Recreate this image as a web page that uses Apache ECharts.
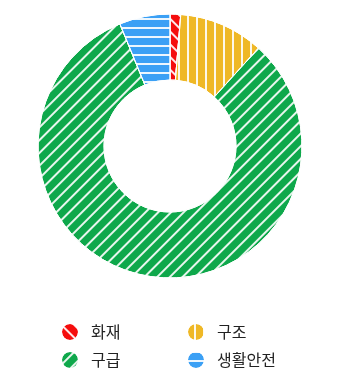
<!DOCTYPE html>
<html>
<head>
<meta charset="utf-8">
<script src="https://cdn.jsdelivr.net/npm/echarts@6/dist/echarts.min.js"></script>
<style>html,body{margin:0;padding:0;background:#fff;}#c{width:355px;height:373px;}</style>
</head>
<body>
<div id="c"></div>
<script>
var categories = ['화재', '구조', '구급', '생활안전'];
var values = [1.3, 10.4, 82.1, 6.2];
var colors = ['#f50d0d', '#efb826', '#0ea84b', '#3ba0f5'];
var rotations = [Math.PI / 4, Math.PI / 2, -Math.PI / 4, 0];

var chart = echarts.init(document.getElementById('c'));
var data = categories.map(function (name, i) {
  return {
    name: name,
    value: values[i],
    itemStyle: {
      color: colors[i],
      decal: {
        symbol: 'rect',
        symbolSize: 1,
        color: 'rgba(255,255,255,0.9)',
        dashArrayX: [1, 0],
        dashArrayY: [1.5, 6.3],
        rotation: rotations[i]
      }
    }
  };
});
chart.setOption({
  animation: false,
  legend: {
    left: 55,
    top: 317,
    width: 250,
    itemWidth: 18,
    itemHeight: 18,
    itemGap: 8,
    icon: 'circle',
    textStyle: {
      fontFamily: '"Noto Sans CJK KR", "Noto Sans", sans-serif',
      fontSize: 16,
      lineHeight: 16,
      color: '#222',
      width: 87,
      padding: [0, 0, 0, 7]
    },
    data: categories
  },
  series: [{
    type: 'pie',
    center: [170, 146],
    radius: [66, 132],
    startAngle: 90,
    clockwise: true,
    label: { show: false },
    labelLine: { show: false },
    emphasis: { disabled: true },
    itemStyle: {
      borderColor: '#fff',
      borderWidth: 1
    },
    data: data
  }]
});
</script>
</body>
</html>
